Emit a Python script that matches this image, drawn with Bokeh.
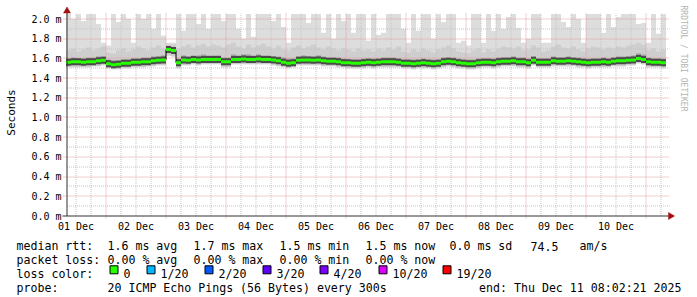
import numpy as np
from bokeh.plotting import figure
from bokeh.models import Range1d, FixedTicker, PrintfTickFormatter, Title
from bokeh.layouts import column
from bokeh.core.properties import value
from bokeh.embed import file_html
from bokeh.resources import INLINE

# ---------------- data ----------------
# time axis: hours since 2025-12-01 00:00, one value per 2-hour block
graph_start_hour = 8 + 2 / 60 + 21 / 3600      # Mon Dec 1 08:02:21
block_start_hour = 8
block_hours = 2

day_labels = ["01 Dec", "02 Dec", "03 Dec", "04 Dec", "05 Dec",
              "06 Dec", "07 Dec", "08 Dec", "09 Dec", "10 Dec"]
y_ticks = [0.0, 0.2, 0.4, 0.6, 0.8, 1.0, 1.2, 1.4, 1.6, 1.8, 2.0]

# median rtt (ms)
median_rtt = [
    1.56, 1.565, 1.565, 1.56, 1.565, 1.565, 1.575, 1.58, 1.545, 1.535,
    1.54, 1.55, 1.55, 1.56, 1.56, 1.565, 1.565, 1.575, 1.58, 1.585,
    1.69, 1.68, 1.555, 1.585, 1.58, 1.59, 1.585, 1.59, 1.59, 1.59,
    1.59, 1.565, 1.565, 1.59, 1.59, 1.595, 1.59, 1.59, 1.595, 1.59,
    1.59, 1.585, 1.575, 1.56, 1.55, 1.555, 1.58, 1.585, 1.585, 1.58,
    1.585, 1.575, 1.57, 1.57, 1.565, 1.555, 1.555, 1.55, 1.55, 1.555,
    1.56, 1.555, 1.56, 1.565, 1.565, 1.565, 1.56, 1.55, 1.55, 1.545,
    1.55, 1.555, 1.55, 1.545, 1.55, 1.565, 1.57, 1.565, 1.555, 1.55,
    1.545, 1.545, 1.555, 1.56, 1.56, 1.555, 1.565, 1.57, 1.57, 1.575,
    1.565, 1.565, 1.555, 1.58, 1.56, 1.56, 1.56, 1.575, 1.57, 1.57,
    1.575, 1.57, 1.565, 1.56, 1.555, 1.56, 1.56, 1.565, 1.56, 1.57,
    1.575, 1.575, 1.58, 1.585, 1.60, 1.59, 1.565, 1.56, 1.56, 1.555,
]

# smoke: slowest ping of each block (top of the light smoke, cut at the graph top)
ping_max = [
    2.05, 2.00, 2.05, 1.98, 2.05, 2.05, 1.95, 1.76, 1.73, 2.05,
    1.97, 2.05, 2.00, 1.76, 2.05, 2.00, 2.05, 1.90, 2.05, 1.83,
    1.76, 1.76, 2.05, 1.88, 2.05, 2.05, 1.95, 2.05, 1.90, 2.05,
    2.05, 1.98, 2.05, 2.05, 1.90, 1.80, 2.05, 1.82, 2.05, 2.05,
    2.05, 1.98, 2.05, 1.92, 1.76, 2.05, 2.05, 2.05, 1.96, 2.05,
    2.05, 1.86, 2.05, 1.80, 2.05, 1.98, 2.05, 1.86, 2.05, 2.05,
    1.78, 2.05, 1.84, 1.86, 2.05, 2.05, 2.05, 1.90, 1.76, 2.05,
    1.88, 2.05, 2.05, 1.80, 2.05, 1.97, 2.05, 2.05, 1.76, 1.78,
    1.73, 2.05, 2.05, 1.76, 2.05, 1.88, 2.05, 1.90, 2.02, 2.05,
    1.91, 1.76, 1.80, 2.05, 2.05, 1.76, 1.76, 2.05, 2.05, 1.97,
    1.92, 2.05, 2.00, 1.76, 2.05, 2.05, 2.05, 1.86, 2.05, 1.92,
    2.02, 2.05, 2.05, 2.05, 1.95, 1.96, 1.76, 2.05, 1.85, 2.05,
]

# upper edge of the medium smoke
ping_hi = [
    1.68, 1.70, 1.67, 1.69, 1.71, 1.68, 1.70, 1.72, 1.66, 1.65,
    1.68, 1.70, 1.67, 1.69, 1.72, 1.70, 1.68, 1.71, 1.73, 1.70,
    1.74, 1.74, 1.70, 1.72, 1.74, 1.71, 1.73, 1.75, 1.72, 1.74,
    1.73, 1.71, 1.74, 1.76, 1.72, 1.70, 1.74, 1.71, 1.73, 1.75,
    1.72, 1.70, 1.73, 1.69, 1.68, 1.71, 1.73, 1.70, 1.72, 1.74,
    1.71, 1.69, 1.72, 1.70, 1.68, 1.70, 1.69, 1.67, 1.70, 1.68,
    1.69, 1.67, 1.70, 1.68, 1.71, 1.69, 1.72, 1.67, 1.66, 1.69,
    1.67, 1.70, 1.68, 1.66, 1.69, 1.71, 1.73, 1.70, 1.67, 1.66,
    1.65, 1.68, 1.70, 1.66, 1.69, 1.67, 1.70, 1.72, 1.71, 1.70,
    1.72, 1.68, 1.69, 1.73, 1.71, 1.67, 1.68, 1.72, 1.74, 1.71,
    1.70, 1.72, 1.69, 1.67, 1.70, 1.72, 1.71, 1.69, 1.71, 1.70,
    1.72, 1.71, 1.73, 1.74, 1.76, 1.74, 1.68, 1.70, 1.67, 1.69,
]

# upper edge of the dark smoke
ping_q3 = [
    1.60, 1.61, 1.60, 1.60, 1.61, 1.61, 1.62, 1.62, 1.59, 1.58,
    1.58, 1.59, 1.59, 1.60, 1.60, 1.61, 1.61, 1.62, 1.62, 1.63,
    1.72, 1.71, 1.60, 1.63, 1.62, 1.63, 1.63, 1.64, 1.63, 1.63,
    1.63, 1.61, 1.61, 1.64, 1.63, 1.64, 1.64, 1.63, 1.64, 1.63,
    1.63, 1.62, 1.62, 1.61, 1.60, 1.60, 1.62, 1.63, 1.62, 1.62,
    1.63, 1.62, 1.61, 1.61, 1.61, 1.60, 1.59, 1.59, 1.59, 1.60,
    1.60, 1.60, 1.60, 1.61, 1.61, 1.61, 1.60, 1.59, 1.59, 1.59,
    1.59, 1.60, 1.59, 1.59, 1.59, 1.61, 1.61, 1.61, 1.60, 1.59,
    1.59, 1.59, 1.60, 1.60, 1.60, 1.60, 1.61, 1.61, 1.61, 1.62,
    1.61, 1.61, 1.60, 1.62, 1.60, 1.60, 1.60, 1.62, 1.61, 1.61,
    1.62, 1.61, 1.61, 1.60, 1.60, 1.60, 1.60, 1.61, 1.60, 1.61,
    1.62, 1.62, 1.62, 1.63, 1.65, 1.64, 1.61, 1.60, 1.60, 1.60,
]

# lower edge of the dark smoke
ping_q1 = [
    1.54, 1.54, 1.54, 1.54, 1.54, 1.55, 1.55, 1.56, 1.53, 1.52,
    1.52, 1.53, 1.53, 1.54, 1.54, 1.54, 1.55, 1.55, 1.56, 1.56,
    1.66, 1.65, 1.53, 1.56, 1.56, 1.57, 1.56, 1.57, 1.57, 1.57,
    1.57, 1.54, 1.54, 1.57, 1.57, 1.57, 1.57, 1.57, 1.57, 1.57,
    1.57, 1.56, 1.55, 1.54, 1.53, 1.54, 1.56, 1.56, 1.56, 1.56,
    1.56, 1.55, 1.55, 1.55, 1.54, 1.54, 1.53, 1.53, 1.53, 1.53,
    1.54, 1.53, 1.54, 1.54, 1.54, 1.54, 1.54, 1.53, 1.53, 1.52,
    1.53, 1.53, 1.53, 1.52, 1.53, 1.54, 1.55, 1.54, 1.53, 1.53,
    1.52, 1.52, 1.53, 1.54, 1.54, 1.53, 1.54, 1.55, 1.55, 1.55,
    1.54, 1.54, 1.53, 1.56, 1.54, 1.54, 1.54, 1.55, 1.55, 1.55,
    1.55, 1.55, 1.54, 1.54, 1.53, 1.54, 1.54, 1.54, 1.54, 1.55,
    1.55, 1.55, 1.56, 1.56, 1.58, 1.57, 1.54, 1.54, 1.54, 1.53,
]

# fastest ping of each block (bottom of the smoke)
ping_min = [
    1.51, 1.51, 1.51, 1.51, 1.51, 1.52, 1.52, 1.53, 1.50, 1.49,
    1.49, 1.50, 1.50, 1.51, 1.51, 1.51, 1.52, 1.52, 1.53, 1.53,
    1.63, 1.62, 1.50, 1.53, 1.53, 1.54, 1.53, 1.54, 1.54, 1.54,
    1.54, 1.51, 1.51, 1.54, 1.54, 1.54, 1.54, 1.54, 1.54, 1.54,
    1.54, 1.53, 1.52, 1.51, 1.50, 1.51, 1.53, 1.53, 1.53, 1.53,
    1.53, 1.52, 1.52, 1.52, 1.51, 1.51, 1.50, 1.50, 1.50, 1.50,
    1.51, 1.50, 1.51, 1.51, 1.51, 1.51, 1.51, 1.50, 1.50, 1.49,
    1.50, 1.50, 1.50, 1.49, 1.50, 1.51, 1.52, 1.51, 1.50, 1.50,
    1.49, 1.49, 1.50, 1.51, 1.51, 1.50, 1.51, 1.52, 1.52, 1.52,
    1.51, 1.51, 1.50, 1.53, 1.51, 1.51, 1.51, 1.52, 1.52, 1.52,
    1.52, 1.52, 1.51, 1.51, 1.50, 1.51, 1.51, 1.51, 1.51, 1.52,
    1.52, 1.52, 1.53, 1.53, 1.55, 1.54, 1.51, 1.51, 1.51, 1.50,
]

# legend texts
legend_rtt = ["median rtt:", "1.6 ms avg", "1.7 ms max", "1.5 ms min", "1.5 ms now",
              "0.0 ms sd", "74.5", "am/s"]
legend_loss = ["packet loss:", "0.00 % avg", "0.00 % max", "0.00 % min", "0.00 % now"]
loss_title = "loss color:"
loss_labels = ["0", "1/20", "2/20", "3/20", "4/20", "10/20", "19/20"]
loss_colors = ["#26ff00", "#00b8ff", "#0059ff", "#5e00ff", "#7e00ff", "#dd00ff", "#ff0000"]
probe_texts = ["probe:", "20 ICMP Echo Pings (56 Bytes) every 300s"]
end_text = "end: Thu Dec 11 08:02:21 2025"
credit_text = "RRDTOOL / TOBI OETIKER"

# ---------------- layout constants ----------------
W = 697
H1, H2 = 234, 63
AXIS_X_PX, AXIS_Y_PX = 65.6, 215.5      # where the graph starts / the zero line on the canvas
B_LEFT, B_RIGHT, B_TOP, B_BOTTOM = 62, 21, 5, 15
PX_PER_HOUR = 2.5
PX_PER_MS = 98.5
MONO = "DejaVu Sans Mono"
MGRID, GRID = "#e49a9a", "#c4c4c4"


def ms_at(px):
    return (AXIS_Y_PX - px) / PX_PER_MS


def hr_at(px):
    return graph_start_hour + (px - AXIS_X_PX) / PX_PER_HOUR


def grid_row(v):
    # rrdtool puts every horizontal grid line on a whole pixel row
    return ms_at(round(AXIS_Y_PX - 0.5 - v * PX_PER_MS) + 0.5)


n = len(median_rtt)
edges = block_start_hour + block_hours * np.arange(n + 1)
left_edges = edges[:-1]
right_edges = edges[1:]


def stepped(a):
    return list(a) + [a[-1]]


p = figure(width=W, height=H1,
           x_range=Range1d(hr_at(B_LEFT), hr_at(W - B_RIGHT)),
           y_range=Range1d(ms_at(H1 - B_BOTTOM), ms_at(B_TOP)),
           output_backend="svg", toolbar_location=None,
           min_border_left=B_LEFT, min_border_right=B_RIGHT,
           min_border_top=B_TOP, min_border_bottom=B_BOTTOM,
           background_fill_color="white", border_fill_color="white",
           outline_line_color=None)
p.frame_align = False
p.grid.visible = False

# smoke
p.varea_step(x=edges, y1=stepped(ping_min), y2=stepped(ping_max), step_mode="after",
             fill_color="#dddddd")
p.varea_step(x=edges, y1=stepped(ping_min), y2=stepped(ping_hi), step_mode="after",
             fill_color="#cecece")
p.varea_step(x=edges, y1=stepped(ping_q1), y2=stepped(ping_q3), step_mode="after",
             fill_color="#9c9c9c")

# grid lines (dotted, over the smoke, as rrdtool draws them)
day_edges = [24 * d for d in range(1, 11)]
six_hours = [6 * k for k in range(2, 42) if k % 4]
major_y = [v for v in y_ticks if v > 0]
minor_y = [round(0.1 + 0.2 * k, 1) for k in range(10)]
top_y = ms_at(13)
p.segment(x0=six_hours, x1=six_hours, y0=[0] * len(six_hours), y1=[top_y] * len(six_hours),
          line_color=GRID, line_width=1, line_dash="1 1")
p.segment(x0=[hr_at(66.5)] * len(minor_y), x1=[hr_at(669)] * len(minor_y),
          y0=[grid_row(v) for v in minor_y], y1=[grid_row(v) for v in minor_y],
          line_color=GRID, line_width=1, line_dash="1 1")
p.segment(x0=day_edges, x1=day_edges, y0=[ms_at(218)] * len(day_edges),
          y1=[top_y] * len(day_edges), line_color=MGRID, line_width=1, line_dash="1 1")
p.segment(x0=[hr_at(63)] * len(major_y), x1=[hr_at(669)] * len(major_y),
          y0=[grid_row(v) for v in major_y], y1=[grid_row(v) for v in major_y],
          line_color=MGRID, line_width=1, line_dash="1 1")

# median line
p.segment(x0=left_edges, x1=right_edges, y0=median_rtt, y1=median_rtt,
          line_color="#4a4a4a", line_width=7)
p.step(x=edges, y=stepped(median_rtt), mode="after", line_color="#000000", line_width=1)
p.segment(x0=left_edges, x1=right_edges, y0=median_rtt, y1=median_rtt,
          line_color="#26ff00", line_width=3)

# axes (tick labels from Bokeh's axes, lines drawn where rrdtool puts them)
day_ticks = [12 + 24 * d for d in range(len(day_labels))]
p.xaxis.ticker = FixedTicker(ticks=day_ticks)
p.xaxis.major_label_overrides = {t: lab for t, lab in zip(day_ticks, day_labels)}
p.yaxis.ticker = FixedTicker(ticks=y_ticks)
p.yaxis.formatter = PrintfTickFormatter(format="%.1f m")
for ax in (p.xaxis[0], p.yaxis[0]):
    ax.major_tick_line_color = None
    ax.minor_tick_line_color = None
    ax.major_tick_out = 0
    ax.major_tick_in = 0
    ax.axis_line_color = None
    ax.major_label_text_font = MONO
    ax.major_label_text_font_size = "10px"
    ax.major_label_text_color = "#000000"
p.xaxis.major_label_standoff = 1
p.yaxis.major_label_standoff = 1
p.yaxis.axis_label = "Seconds"
p.yaxis.axis_label_text_font = MONO
p.yaxis.axis_label_text_font_size = "11px"
p.yaxis.axis_label_text_font_style = "normal"
p.yaxis.axis_label_text_color = "#000000"
p.yaxis.axis_label_standoff = 10

# axis lines with arrow heads
p.segment(x0=[hr_at(66.5), hr_at(62)], y0=[0, 0],
          x1=[hr_at(66.5), hr_at(669)], y1=[ms_at(10), 0],
          line_color="#333333", line_width=1, level="annotation")
p.scatter(x=[hr_at(66.5), hr_at(670)], y=[ms_at(10.5), 0], marker="triangle",
          size=7, angle=[0, -np.pi / 2], fill_color="#a01010", line_color="#a01010",
          line_width=0.5, level="annotation")

# credit text in the right margin
p.add_layout(Title(text=credit_text, align="left", text_font=MONO, text_font_size="8px",
                   text_font_style="normal", text_color="#b4b4b4", standoff=5),
             "right")

# ---------------- legend block ----------------
q = figure(width=W, height=H2, x_range=Range1d(0, W), y_range=Range1d(H2, 0),
           output_backend="svg", toolbar_location=None, min_border=0,
           x_axis_type=None, y_axis_type=None, outline_line_color=None,
           background_fill_color="white", border_fill_color="white")
q.frame_align = False
q.grid.visible = False

base = [11.5, 25.4, 39.3, 53.2]
fs = value("11.6px")
rtt_x = [16, 107, 193, 279, 365, 449, 530, 579]
q.text(x=rtt_x, y=[base[0]] * len(rtt_x), text=legend_rtt, text_font=value(MONO),
       text_font_size=fs, text_baseline="alphabetic", text_color="#000000")
loss_x = [16, 107, 193, 279, 365]
q.text(x=loss_x, y=[base[1]] * len(loss_x), text=legend_loss, text_font=value(MONO),
       text_font_size=fs, text_baseline="alphabetic", text_color="#000000")
box_left = [109, 146, 204, 262, 319, 378, 442]
q.text(x=[16], y=[base[2]], text=[loss_title], text_font=value(MONO), text_font_size=fs,
       text_baseline="alphabetic", text_color="#000000")
q.rect(x=[b + 4.5 for b in box_left], y=[base[2] - 4] * len(box_left), width=8, height=8,
       fill_color=loss_colors, line_color="#000000", line_width=1)
q.text(x=[b + 14 for b in box_left], y=[base[2]] * len(box_left), text=loss_labels,
       text_font=value(MONO), text_font_size=fs, text_baseline="alphabetic",
       text_color="#000000")
q.text(x=[16, 107], y=[base[3]] * 2, text=probe_texts, text_font=value(MONO),
       text_font_size=fs, text_baseline="alphabetic", text_color="#000000")
q.text(x=[681], y=[base[3]], text=[end_text], text_font=value(MONO), text_font_size=fs,
       text_baseline="alphabetic", text_align="right", text_color="#000000")

layout = column(p, q, spacing=0)
open("out.html", "w").write(file_html(layout, INLINE))
